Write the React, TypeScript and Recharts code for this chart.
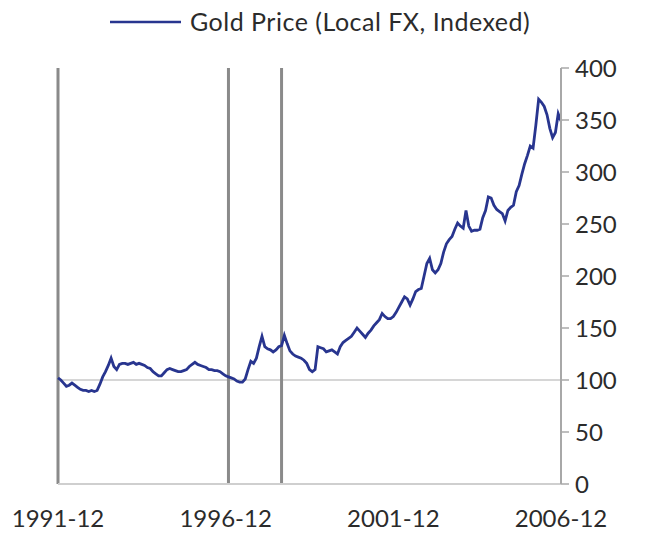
import React from "react";
import {
  LineChart,
  Line,
  XAxis,
  YAxis,
  ReferenceLine,
  Legend,
} from "recharts";

// monthly index values, 1991-12 .. 2006-12
const goldIndexed = [
  102, 100, 97, 94, 95, 97, 95, 93, 91, 90, 90, 89,
  90, 89, 90, 96, 103, 108, 114, 121, 113, 110, 115, 116,
  116, 115, 116, 117, 115, 116, 115, 114, 112, 111, 108, 106,
  104, 104, 107, 110, 111, 110, 109, 108, 108, 109, 110, 113,
  115, 117, 115, 114, 113, 112, 110, 110, 109, 109, 108, 106,
  104, 103, 102, 101, 99, 98, 98, 101, 110, 118, 116, 121,
  132, 142, 132, 130, 129, 127, 129, 132, 133, 143, 135, 128,
  125, 123, 122, 121, 119, 116, 110, 108, 110, 132, 131, 130,
  127, 128, 129, 127, 125, 132, 136, 138, 140, 142, 146, 150,
  147, 144, 141, 145, 148, 152, 155, 158, 164, 161, 159, 159,
  161, 165, 170, 175, 180, 178, 172, 178, 185, 187, 188, 200,
  212, 217, 206, 203, 206, 212, 223, 231, 235, 238, 245, 251,
  248, 246, 263, 248, 243, 244, 244, 245, 256, 263, 276, 275,
  268, 264, 262, 260, 253, 263, 266, 268, 281, 287, 298, 308,
  316, 325, 323, 345, 370, 367, 363, 355, 342, 333, 338, 356,
  349,
];

const startYear = 1991;
const startMonth = 12;
const months = goldIndexed.map((_, i) => {
  const m = startMonth - 1 + i;
  const y = startYear + Math.floor(m / 12);
  return `${y}-${String((m % 12) + 1).padStart(2, "0")}`;
});

const xTickLabels = ["1991-12", "1996-12", "2001-12", "2006-12"];
const yTicks = [0, 50, 100, 150, 200, 250, 300, 350, 400];
const eventLines = ["1991-12", "1997-01", "1998-08"];
const baseLevel = 100;

const data = months.map((month, idx) => ({ idx, month, gold: goldIndexed[idx] }));
const xTicks = xTickLabels.map((l) => months.indexOf(l));

const NAVY = "#28358f";
const FONT = "Lato, 'Open Sans', sans-serif";

function LegendBox() {
  return (
    <svg width={647} height={44}>
      <line x1={110} y1={22} x2={181} y2={22} stroke={NAVY} strokeWidth={2.5} />
      <text x={190} y={31} fill="#2b2b2b" fontSize={25} letterSpacing={0.5} fontFamily={FONT}>
        Gold Price (Local FX, Indexed)
      </text>
    </svg>
  );
}

export default function App() {
  return (
    <div style={{ position: "absolute", left: 0, top: 0, background: "#fff" }}>
      <LineChart
        width={647}
        height={541}
        data={data}
        margin={{ top: 24, right: 0, bottom: 0, left: 58 }}
      >
        <Legend
          verticalAlign="top"
          align="left"
          height={44}
          content={() => <LegendBox />}
          wrapperStyle={{ top: 0, left: 0, width: 647, height: 44 }}
        />
        <XAxis
          dataKey="idx"
          type="number"
          domain={[0, goldIndexed.length - 1]}
          ticks={xTicks}
          tickFormatter={(v: number) => months[v]}
          height={57}
          tickSize={0}
          tickMargin={26}
          axisLine={{ stroke: "#cfcfcf", strokeWidth: 2 }}
          tick={{ fill: "#2b2b2b", fontSize: 24, fontFamily: FONT }}
          interval={0}
        />
        <YAxis
          orientation="right"
          domain={[0, 400]}
          ticks={yTicks}
          width={86}
          tickSize={8}
          tickMargin={6}
          axisLine={{ stroke: "#a8a8a8", strokeWidth: 2 }}
          tickLine={{ stroke: "#a8a8a8", strokeWidth: 1.5 }}
          tick={{ fill: "#2b2b2b", fontSize: 24, fontFamily: FONT, textAnchor: "start" }}
          interval={0}
        />
        <ReferenceLine y={baseLevel} stroke="#c9c9c9" strokeWidth={1.5} />
        {eventLines.map((m) => (
          <ReferenceLine key={m} x={months.indexOf(m)} stroke="#8a8a8a" strokeWidth={3} />
        ))}
        <Line
          dataKey="gold"
          type="linear"
          stroke={NAVY}
          strokeWidth={2.8}
          dot={false}
          isAnimationActive={false}
        />
      </LineChart>
    </div>
  );
}
